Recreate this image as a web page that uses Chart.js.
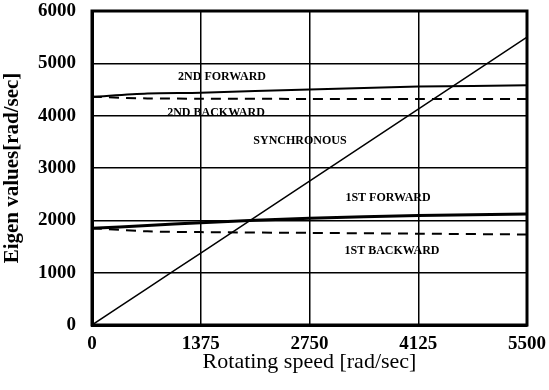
<!DOCTYPE html>
<html>
<head>
<meta charset="utf-8">
<script src="https://cdn.jsdelivr.net/npm/chart.js@4.4.1/dist/chart.umd.min.js"></script>
<style>
  html, body { margin: 0; padding: 0; background: #fff; }
  #wrap { width: 549px; height: 390px; }
</style>
</head>
<body>
<div id="wrap"><canvas id="eigenChart"></canvas></div>
<script>
// rotating speed samples [rad/sec]
const speeds = [0, 700, 1375, 2750, 4125, 5500];
const firstForward = [1850, 1900, 1955, 2040, 2090, 2120];
const firstBackward = [1850, 1790, 1775, 1760, 1745, 1730];
const secondForward = [4360, 4425, 4440, 4500, 4555, 4580];
const secondBackward = [4360, 4330, 4325, 4320, 4320, 4320];
const synchronous = [0, 700, 1375, 2750, 4125, 5500];

const xTicks = [0, 1375, 2750, 4125, 5500];
const yTicks = [0, 1000, 2000, 3000, 4000, 5000, 6000];

const curveNames = ["2ND FORWARD", "2ND BACKWARD", "SYNCHRONOUS", "1ST FORWARD", "1ST BACKWARD"];
const nameX = [1644, 1568, 2630, 3743, 3793];
const nameY = [4739, 4051, 3516, 2427, 1414];

function el(id) {
  return document.getElementById(id);
}

function pts(ys) {
  return speeds.map((s, i) => ({ x: s, y: ys[i] }));
}

const serif = "'Liberation Serif', 'DejaVu Serif', serif";

// curve names + the heavy frame
const curveLabels = {
  id: "curveLabels",
  afterDatasetsDraw(chart) {
    const { ctx, scales, chartArea } = chart;
    ctx.save();
    ctx.fillStyle = "#000";
    ctx.font = "bold 12px " + serif;
    ctx.textAlign = "center";
    ctx.textBaseline = "middle";
    curveNames.forEach((t, i) => {
      ctx.fillText(t, scales.x.getPixelForValue(nameX[i]), scales.y.getPixelForValue(nameY[i]));
    });
    ctx.lineWidth = 3;
    ctx.strokeStyle = "#000";
    ctx.strokeRect(chartArea.left, chartArea.top, chartArea.right - chartArea.left, chartArea.bottom - chartArea.top);
    ctx.restore();
  }
};

function lineSet(ys, dashed, width) {
  return {
    data: pts(ys),
    borderColor: "#000",
    borderWidth: width,
    borderDash: dashed ? [10, 7] : [],
    pointRadius: 0,
    tension: 0.3,
    fill: false
  };
}

new Chart(el("eigenChart"), {
  type: "line",
  data: {
    datasets: [
      lineSet(firstForward, false, 3),
      lineSet(firstBackward, true, 2),
      lineSet(secondForward, false, 2),
      lineSet(secondBackward, true, 2),
      lineSet(synchronous, false, 1.5)
    ]
  },
  options: {
    responsive: true,
    maintainAspectRatio: false,
    animation: false,
    layout: { padding: 0 },
    plugins: { legend: { display: false }, tooltip: { enabled: false } },
    scales: {
      x: {
        type: "linear",
        min: 0,
        max: 5500,
        afterBuildTicks: axis => { axis.ticks = xTicks.map(v => ({ value: v })); },
        afterFit: axis => {
          axis.height = 65;
          axis.paddingLeft = 0;
          axis.paddingRight = 22;
        },
        grid: { color: "#000", lineWidth: 1.5, drawTicks: false },
        border: { color: "#000", width: 3 },
        ticks: {
          color: "#000",
          padding: 8,
          font: { family: serif, size: 19, weight: "bold" },
          callback: v => String(v)
        },
        title: {
          display: true,
          text: "Rotating speed [rad/sec]",
          color: "#000",
          padding: { top: 0, bottom: 15 },
          font: { family: serif, size: 22 }
        }
      },
      y: {
        min: 0,
        max: 6000,
        afterBuildTicks: axis => { axis.ticks = yTicks.map(v => ({ value: v })); },
        afterFit: axis => {
          axis.width = 92;
          axis.paddingTop = 11;
          axis.paddingBottom = 0;
        },
        grid: { color: "#000", lineWidth: 1.5, drawTicks: false },
        border: { color: "#000", width: 3 },
        ticks: {
          color: "#000",
          padding: 16,
          font: { family: serif, size: 19, weight: "bold" },
          callback: v => String(v)
        },
        title: {
          display: true,
          text: "Eigen values[rad/sec]",
          color: "#000",
          padding: { top: 0, bottom: 0 },
          font: { family: serif, size: 21, weight: "bold" }
        }
      }
    }
  },
  plugins: [curveLabels]
});
</script>
</body>
</html>
